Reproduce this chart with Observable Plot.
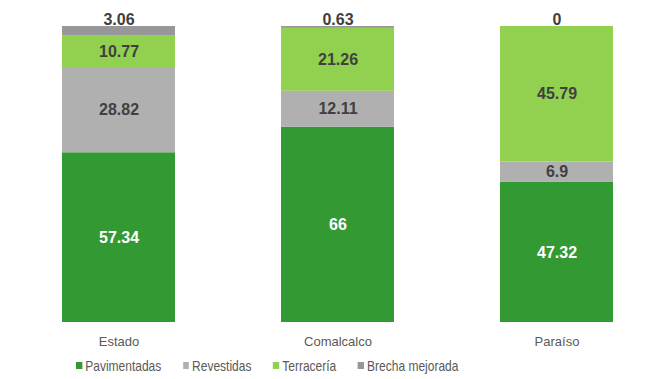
<!DOCTYPE html>
<html>
<head>
<meta charset="utf-8">
<script src="https://cdn.jsdelivr.net/npm/d3@7"></script>
<script src="https://cdn.jsdelivr.net/npm/@observablehq/plot@0.6"></script>
<style>
  body { margin: 0; background: #fff; overflow: hidden; }
  #chart { width: 657px; }
  .legend { display: flex; align-items: center; height: 27px; padding-left: 95px;
    transform: scaleX(0.8); transform-origin: 0 0; white-space: nowrap;
    font-family: "Liberation Sans", Arial, sans-serif; font-size: 15px; color: #595959; }
  .legend .item { display: flex; align-items: center; margin-right: 27px; }
  .legend .sw { width: 7.5px; height: 7px; margin-right: 4px; }
</style>
</head>
<body>
<div id="chart"></div>
<script>
const categories = ["Estado", "Comalcalco", "Paraíso"];
const series = ["Pavimentadas", "Revestidas", "Terracería", "Brecha mejorada"];
const colors = ["#339933", "#B0B0B0", "#92D050", "#979797"];
const pavimentadas = [57.34, 66, 47.32];
const revestidas = [28.82, 12.11, 6.9];
const terraceria = [10.77, 21.26, 45.79];
const brecha = [3.06, 0.63, 0];

const seriesValues = [pavimentadas, revestidas, terraceria, brecha];
const data = [];
categories.forEach((c, i) => {
  series.forEach((s, j) => data.push({category: c, series: s, value: seriesValues[j][i]}));
});
const tops = categories.map((c, i) => ({
  category: c,
  value: brecha[i],
  total: seriesValues.reduce((a, arr) => a + arr[i], 0)
}));

const W = 657, H = 352;
const plot = Plot.plot({
  width: W,
  height: H,
  marginTop: 26,
  marginBottom: 30,
  marginLeft: 0,
  marginRight: 0,
  style: {fontFamily: "'Liberation Sans', Arial, sans-serif", background: "#fff"},
  x: {domain: categories, range: [9, 666], paddingInner: 0.484, paddingOuter: 0.242, label: null},
  y: {domain: [0, 100], axis: null},
  color: {domain: series, range: colors},
  marks: [
    Plot.barY(data, Plot.stackY({x: "category", y: "value", fill: "series", order: series})),
    Plot.ruleY([0], {x1: 7, x2: 657, stroke: "#d9d9d9", strokeWidth: 1.3}),
    Plot.text(data, Plot.stackY({
      filter: d => d.series !== "Brecha mejorada",
      x: "category", y: "value", z: "series", order: series,
      text: d => String(d.value),
      fill: d => d.series === "Pavimentadas" ? "#ffffff" : "#404040",
      fontSize: 16, fontWeight: "bold"
    })),
    Plot.text(tops, {
      x: "category", y: "total", text: d => String(d.value),
      dy: -7, fill: "#404040", fontSize: 16, fontWeight: "bold"
    }),
    Plot.axisX({tickSize: 0, tickPadding: 14, fontSize: 13, fill: "#595959", label: null})
  ]
});
document.getElementById("chart").appendChild(plot);

const legend = document.createElement("div");
legend.className = "legend";
series.forEach((s, j) => {
  const item = document.createElement("div");
  item.className = "item";
  const sw = document.createElement("span");
  sw.className = "sw";
  sw.style.background = colors[j];
  const t = document.createElement("span");
  t.textContent = s;
  item.appendChild(sw);
  item.appendChild(t);
  legend.appendChild(item);
});
document.getElementById("chart").appendChild(legend);
</script>
</body>
</html>
